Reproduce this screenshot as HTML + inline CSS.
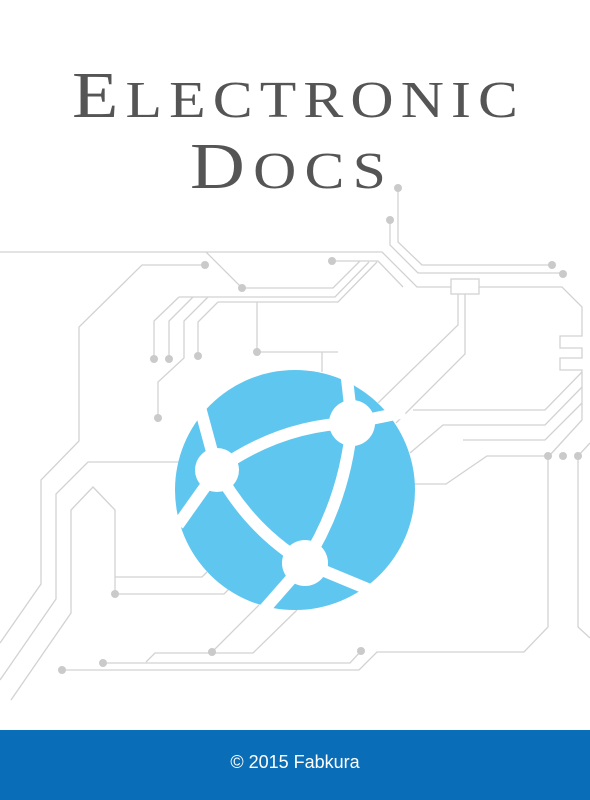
<!DOCTYPE html>
<html><head><meta charset="utf-8"><style>
html,body{margin:0;padding:0;background:#fff;}
body{width:590px;height:800px;position:relative;overflow:hidden;}
svg{position:absolute;left:0;top:0;}
.banner{position:absolute;left:0;top:730px;width:590px;height:70px;background:#0a6db7;color:#fff;font-family:"Liberation Sans",sans-serif;font-size:18px;text-align:center;line-height:64px;}
</style></head><body>
<svg width="590" height="800" viewBox="0 0 590 800">
<g fill="none" stroke="#d2d2d2" stroke-width="1.3">
<polyline points="0,252 382,252 417,287 451,287"/>
<rect x="451" y="279" width="28" height="15"/>
<polyline points="479,287 562,287 582,307 582,336 560,336 560,348 582,348 582,358 560,358 560,370 582,370 582,420 550,455"/>
<polyline points="582,372 545,410 413,410"/>
<polyline points="582,387 545,425 443,425 410,453"/>
<polyline points="582,403 545,440 463,440"/>
<polyline points="548,456 487,456 446,484 414,484"/>
<polyline points="398,188 398,242 422,265 552,265"/>
<polyline points="390,220 390,245 418,273 563,273"/>
<polyline points="458,294 458,325 378,403"/>
<polyline points="465,294 465,354 396,423"/>
<polyline points="205,265 142,265 79,327 79,441 41,480 41,584 0,643"/>
<polyline points="206,252 242,288 333,288 360,261"/>
<polyline points="332,261 378,261 403,287"/>
<polyline points="179,297 335,297 369,262"/>
<polyline points="218,302 338,302 377,262"/>
<polyline points="179,297 154,321 154,359"/>
<polyline points="193,297 169,321 169,359"/>
<polyline points="208,297 184,321 184,358 158,382 158,418"/>
<polyline points="218,302 198,322 198,356"/>
<polyline points="257,302 257,352 338,352"/>
<polyline points="322,352 322,372"/>
<polyline points="179,462 88,462 56,494 56,599 0,680"/>
<polyline points="115,594 115,510 93,487 71,510 71,613 11,700"/>
<polyline points="115,577 202,577 207,572"/>
<polyline points="115,594 224,594 229,589"/>
<polyline points="259,605 212,652"/>
<polyline points="146,662 155,653 253,653 297,610"/>
<polyline points="103,663 350,663 361,651"/>
<polyline points="62,670 359,670 377,652 524,652 548,627 548,456"/>
<polyline points="590,638 578,627 578,456 590,443"/>
</g>
<g fill="#cacaca">
<circle cx="398" cy="188" r="4"/><circle cx="390" cy="220" r="4"/>
<circle cx="552" cy="265" r="4"/><circle cx="563" cy="274" r="4"/>
<circle cx="205" cy="265" r="4"/><circle cx="242" cy="288" r="4"/>
<circle cx="332" cy="261" r="4"/>
<circle cx="154" cy="359" r="4"/><circle cx="169" cy="359" r="4"/>
<circle cx="198" cy="356" r="4"/><circle cx="158" cy="418" r="4"/>
<circle cx="257" cy="352" r="4"/>
<circle cx="548" cy="456" r="4"/><circle cx="563" cy="456" r="4"/><circle cx="578" cy="456" r="4"/>
<circle cx="115" cy="594" r="4"/>
<circle cx="212" cy="652" r="4"/><circle cx="103" cy="663" r="4"/>
<circle cx="62" cy="670" r="4"/><circle cx="361" cy="651" r="4"/>
</g>
<circle cx="295" cy="490" r="120" fill="#5fc6f0"/>
<g fill="none" stroke="#fff" stroke-width="12">
<path d="M217,470 Q280,425 352,423"/>
<path d="M352,423 Q345,500 305,563"/>
<path d="M217,470 Q250,530 305,563"/>
<path d="M217,470 L198,400"/>
<path d="M217,470 L178,525"/>
<path d="M352,423 L346,370"/>
<path d="M352,423 L405,412"/>
<path d="M305,563 L262,612"/>
<path d="M305,563 L375,592"/>
</g>
<g fill="#fff">
<circle cx="217" cy="470" r="22"/><circle cx="352" cy="423" r="23"/><circle cx="305" cy="563" r="23"/>
</g>
<g fill="#555" font-family="'Liberation Serif',serif" transform="scale(1.15,1)">
<text x="62.6" y="117" textLength="387.8" lengthAdjust="spacing"><tspan font-size="66">E</tspan><tspan font-size="52">LECTRONIC</tspan></text>
<text x="165.2" y="188" textLength="170.4" lengthAdjust="spacing"><tspan font-size="66">D</tspan><tspan font-size="52">OCS</tspan></text>
</g>
</svg>
<div class="banner">© 2015 Fabkura</div>
</body></html>
